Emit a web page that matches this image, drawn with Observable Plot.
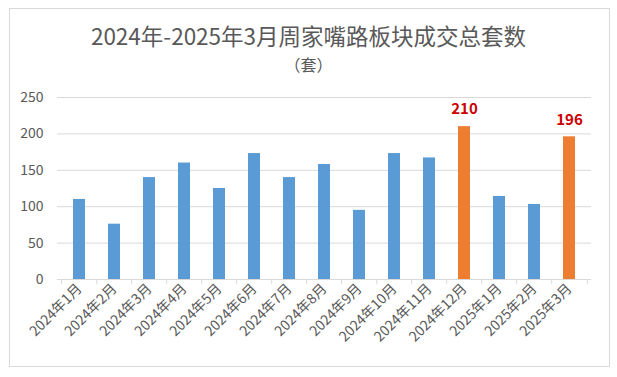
<!DOCTYPE html>
<html><head><meta charset="utf-8">
<script src="https://cdn.jsdelivr.net/npm/d3@7"></script>
<script src="https://cdn.jsdelivr.net/npm/@observablehq/plot@0.6"></script>
<style>
body{margin:0;background:#fff;}
#wrap{position:relative;width:617px;height:377px;font-family:"Noto Sans CJK SC","Noto Sans",sans-serif;overflow:hidden;}
#frame{position:absolute;left:9px;top:8px;width:601px;height:359px;border:1px solid #d9d9d9;box-sizing:border-box;}
#title{position:absolute;left:0;width:617px;top:20px;text-align:center;font-size:22.5px;color:#595959;line-height:30px;white-space:nowrap;}
#sub{position:absolute;left:0;width:617px;top:52px;text-align:center;font-size:16px;color:#595959;line-height:24px;}
#chart{position:absolute;left:0;top:0;}
</style></head>
<body>
<div id="wrap">
  <div id="frame"></div>
  <div id="chart"></div>
  <div id="title">2024年-2025年3月周家嘴路板块成交总套数</div>
  <div id="sub">（套）</div>
</div>
<script>
const months = ["2024年1月","2024年2月","2024年3月","2024年4月","2024年5月","2024年6月","2024年7月","2024年8月","2024年9月","2024年10月","2024年11月","2024年12月","2025年1月","2025年2月","2025年3月"];
const values = [110, 76, 140, 160, 125, 173, 140, 158, 95, 173, 167, 210, 114, 103, 196];
const highlighted = ["2024年12月", "2025年3月"];
const yTicks = [0, 50, 100, 150, 200, 250];

const data = months.map((m, i) => ({month: m, value: values[i], hl: highlighted.includes(m)}));
const W = 617, H = 377, ML = 57, MR = 26, MT = 97, MB = 98;
const step = (W - ML - MR) / months.length;

const chart = Plot.plot({
  width: W, height: H,
  marginLeft: ML, marginRight: MR, marginTop: MT, marginBottom: MB,
  style: {fontFamily: '"Noto Sans CJK SC","Noto Sans",sans-serif', color: "#595959", background: "transparent", overflow: "visible"},
  x: {domain: months, paddingInner: 0.66, paddingOuter: 0.33, label: null},
  y: {domain: [0, 250], label: null},
  color: {type: "identity"},
  marks: [
    Plot.gridY(yTicks, {stroke: "#d9d9d9", strokeOpacity: 1}),
    Plot.barY(data, {x: "month", y: "value", fill: d => d.hl ? "#ed7d31" : "#5b9bd5"}),
    Plot.ruleY([0], {stroke: "#d9d9d9"}),
    Plot.ruleX(months, {x: d => d, y1: 0, y2: -7, dx: -step / 2, stroke: "#d9d9d9"}),
    Plot.ruleX(months.slice(-1), {x: d => d, y1: 0, y2: -7, dx: step / 2, stroke: "#d9d9d9"}),
    Plot.axisY(yTicks, {tickSize: 0, tickPadding: 14, fontSize: 14, fill: "#595959"}),
    Plot.axisX({tickSize: 0, tickRotate: -45, fontSize: 14, tickPadding: 7, fill: "#595959"}),
    Plot.text(data.filter(d => d.hl), {x: "month", y: "value", text: d => String(d.value), dy: -17, fill: "#cc0000", fontWeight: "bold", fontSize: 15})
  ]
});
document.getElementById("chart").appendChild(chart);
</script>
</body></html>
